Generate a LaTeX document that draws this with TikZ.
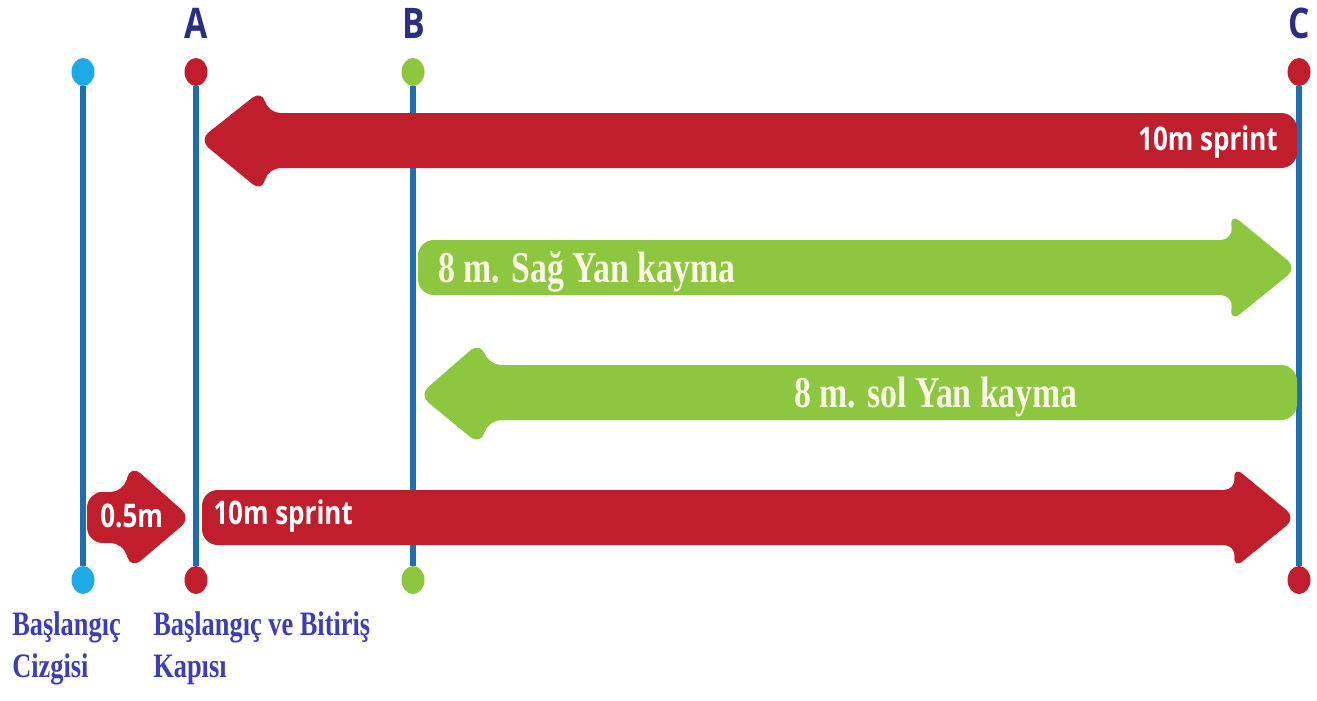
\documentclass[tikz,border=0pt]{standalone}
\usepackage{fontspec}
\usetikzlibrary{shapes.geometric}
\newfontfamily\sanscond{Open Sans}[FakeStretch=0.8]
\newfontfamily\serifcond{Liberation Serif}[FakeStretch=0.77]
\definecolor{arrred}{RGB}{192,30,45}
\definecolor{arrgreen}{RGB}{141,198,63}
\definecolor{lineblue}{RGB}{30,110,180}
\definecolor{dotcyan}{RGB}{30,170,230}
\definecolor{gatenavy}{RGB}{44,46,130}
\definecolor{labelblue}{RGB}{62,62,180}
\definecolor{creamwhite}{RGB}{248,248,228}
\tikzset{
  gatedot/.style={ellipse, minimum width=0.46cm, minimum height=0.56cm, inner sep=0pt, draw=none},
  vline/.style={line width=3.4pt, draw=lineblue},
  sprinttext/.style={text=white, font=\sanscond\bfseries\fontsize{18.5}{20}\selectfont, inner sep=0pt},
  slidetext/.style={text=creamwhite, font=\serifcond\bfseries\fontsize{25}{28}\selectfont, inner sep=0pt},
  gatelabel/.style={text=gatenavy, font=\sanscond\bfseries\fontsize{24}{26}\selectfont, inner sep=0pt, anchor=base},
  bottomlabel/.style={text=labelblue, font=\serifcond\bfseries\fontsize{19.5}{23.8}\selectfont, inner sep=0pt, align=left, anchor=base west}
}
\begin{document}
\begin{tikzpicture}[x=0.02cm,y=-0.02cm]
\useasboundingbox (0,0) rectangle (1317,700);
\fill[white] (0,0) rectangle (1317,700);

% gate dots
\node[gatedot, fill=dotcyan] (st) at (83,72) {};
\node[gatedot, fill=dotcyan] (sb) at (83,580) {};
\node[gatedot, fill=arrred] (at) at (196,72) {};
\node[gatedot, fill=arrred] (ab) at (196,580) {};
\node[gatedot, fill=arrgreen] (bt) at (413,72) {};
\node[gatedot, fill=arrgreen] (bb) at (413,580) {};
\node[gatedot, fill=arrred] (ct) at (1299,72) {};
\node[gatedot, fill=arrred] (cb) at (1299,580) {};

% vertical lines
\draw[vline] (st) -- (sb);
\draw[vline] (at) -- (ab);
\draw[vline] (bt) -- (bb);
\draw[vline] (ct) -- (cb);

% gate letters
\node[gatelabel] (la) at (196,38) {A};
\node[gatelabel] (lb) at (414,38) {B};
\node[gatelabel] (lc) at (1299,38) {C};

% top red arrow (left)
\fill[arrred] (700,113) [rounded corners=7pt] -- (268,113) -- (262,90) -- (199,140) -- (262,192) -- (268,168) -- (700,168) [rounded corners=9pt] -- (1297,168) -- (1297,113) -- cycle;
% green arrow right
\fill[arrgreen] (800,240) [rounded corners=7pt] -- (1233,240) -- (1230,213) -- (1297,268) -- (1230,322) -- (1233,295) -- (800,295) [rounded corners=9pt] -- (418,295) -- (418,240) -- cycle;
% green arrow left
\fill[arrgreen] (800,365) [rounded corners=7pt] -- (489,365) -- (480,342) -- (419,395) -- (480,445) -- (489,420) -- (800,420) [rounded corners=9pt] -- (1297,420) -- (1297,365) -- cycle;
% bottom red arrow (right)
\fill[arrred] (700,490) [rounded corners=7pt] -- (1236,490) -- (1233,466) -- (1296,518) -- (1233,569) -- (1236,545) -- (700,545) [rounded corners=9pt] -- (202,545) -- (202,490) -- cycle;
% small 0.5m arrow
\fill[arrred] (105,492) [rounded corners=7pt] -- (123,492) -- (131,465) -- (191,518) -- (131,569) -- (123,543) -- (105,543) [rounded corners=9pt] -- (87,543) -- (87,492) -- cycle;

% arrow texts
\node[sprinttext, anchor=base east] (t1) at (1278,150) {10m sprint};
\node[slidetext, anchor=base west] (t2) at (438,282) {8 m. Sağ Yan kayma};
\node[slidetext, anchor=base] (t3) at (936,407) {8 m. sol Yan kayma};
\node[sprinttext, anchor=base west] (t4) at (213,524) {10m sprint};
\node[sprinttext, anchor=base west] (t5) at (100,527) {0.5m};

% bottom labels (anchor at baseline of last line)
\node[bottomlabel] (l1) at (12,677) {Başlangıç\\Cizgisi};
\node[bottomlabel] (l2) at (153,677) {Başlangıç ve Bitiriş\\Kapısı};
\end{tikzpicture}
\end{document}
